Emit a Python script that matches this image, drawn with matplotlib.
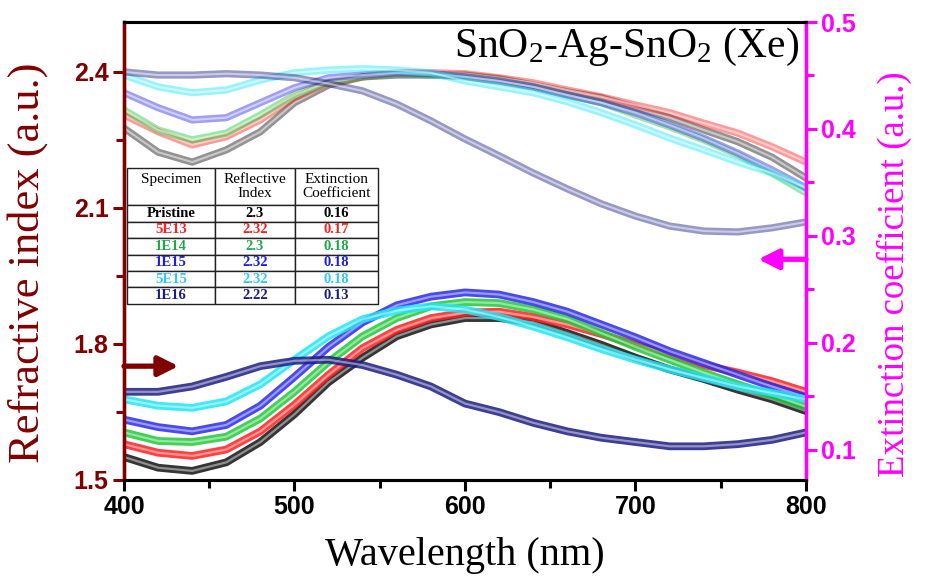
import matplotlib.pyplot as plt
from matplotlib.ticker import MultipleLocator

plt.rcParams["mathtext.fontset"] = "custom"
plt.rcParams["mathtext.rm"] = "Liberation Serif"
plt.rcParams["mathtext.it"] = "Liberation Serif:italic"

# wavelength grid (nm)
wavelength = [400, 420, 440, 460, 480, 500, 520, 540, 560, 580, 600,
              620, 640, 660, 680, 700, 720, 740, 760, 780, 800]

specimens = ["Pristine", "5E13", "1E14", "1E15", "5E15", "1E16"]

# refractive index n (left axis)
n_pristine = [2.276, 2.223, 2.201, 2.228, 2.268, 2.332, 2.371, 2.389, 2.393, 2.393, 2.393,
              2.385, 2.371, 2.356, 2.343, 2.321, 2.299, 2.272, 2.246, 2.212, 2.166]
n_5e13 = [2.305, 2.268, 2.239, 2.257, 2.294, 2.343, 2.376, 2.389, 2.398, 2.398, 2.396,
          2.387, 2.376, 2.360, 2.345, 2.327, 2.310, 2.287, 2.265, 2.235, 2.201]
n_1e14 = [2.316, 2.272, 2.250, 2.265, 2.305, 2.349, 2.378, 2.389, 2.396, 2.393, 2.389,
          2.380, 2.367, 2.349, 2.332, 2.305, 2.279, 2.250, 2.217, 2.177, 2.133]
n_1e15 = [2.354, 2.321, 2.294, 2.299, 2.332, 2.365, 2.387, 2.393, 2.398, 2.396, 2.389,
          2.380, 2.367, 2.349, 2.332, 2.310, 2.283, 2.254, 2.221, 2.184, 2.144]
n_5e15 = [2.393, 2.367, 2.354, 2.360, 2.382, 2.398, 2.404, 2.407, 2.404, 2.398, 2.380,
          2.367, 2.354, 2.334, 2.310, 2.283, 2.254, 2.228, 2.201, 2.177, 2.144]
n_1e16 = [2.400, 2.393, 2.393, 2.396, 2.393, 2.387, 2.374, 2.358, 2.329, 2.292, 2.252,
          2.215, 2.177, 2.142, 2.109, 2.082, 2.060, 2.049, 2.047, 2.056, 2.069]

# extinction coefficient k (right axis)
k_pristine = [0.093, 0.083, 0.080, 0.088, 0.107, 0.133, 0.163, 0.186, 0.206, 0.217, 0.223,
              0.223, 0.219, 0.209, 0.198, 0.186, 0.175, 0.166, 0.156, 0.147, 0.136]
k_5e13 = [0.105, 0.097, 0.094, 0.100, 0.117, 0.142, 0.170, 0.195, 0.212, 0.223, 0.228,
          0.229, 0.224, 0.217, 0.208, 0.198, 0.189, 0.179, 0.172, 0.164, 0.154]
k_1e14 = [0.116, 0.108, 0.107, 0.112, 0.129, 0.154, 0.182, 0.206, 0.223, 0.234, 0.238,
          0.237, 0.231, 0.222, 0.209, 0.196, 0.184, 0.172, 0.161, 0.151, 0.140]
k_1e15 = [0.128, 0.121, 0.117, 0.123, 0.141, 0.168, 0.196, 0.219, 0.235, 0.243, 0.247,
          0.245, 0.238, 0.229, 0.217, 0.205, 0.192, 0.181, 0.170, 0.159, 0.149]
k_5e15 = [0.147, 0.141, 0.139, 0.145, 0.161, 0.184, 0.206, 0.222, 0.230, 0.234, 0.231,
          0.224, 0.215, 0.205, 0.194, 0.184, 0.175, 0.167, 0.159, 0.153, 0.147]
k_1e16 = [0.154, 0.154, 0.159, 0.168, 0.178, 0.183, 0.184, 0.179, 0.170, 0.159, 0.143,
          0.135, 0.125, 0.117, 0.111, 0.107, 0.103, 0.103, 0.105, 0.109, 0.116]

table_n = ["2.3", "2.32", "2.3", "2.32", "2.32", "2.22"]
table_k = ["0.16", "0.17", "0.18", "0.18", "0.18", "0.13"]

n_series = [n_pristine, n_5e13, n_1e14, n_1e15, n_5e15, n_1e16]
k_series = [k_pristine, k_5e13, k_1e14, k_1e15, k_5e15, k_1e16]

colors = ["#111111", "#ff2020", "#22c83a", "#2a2ae8", "#20e4f4", "#1c1c82"]
text_colors = ["black", "#ff2020", "#1fa847", "#1f1fe0", "#30c8f4", "#1c1c82"]
maroon = "#800000"
magenta = "#ff00ff"

fig = plt.figure(figsize=(9.26, 5.76), dpi=100)
ax = fig.add_axes([0.1339, 0.1667, 0.7365, 0.7951])
ax2 = ax.twinx()

for vals, c in zip(n_series, colors):
    ax.plot(wavelength, vals, color=c, lw=5.2, alpha=0.45, solid_joinstyle="round")
    ax.plot(wavelength, vals, color="white", lw=1.5, alpha=0.5, solid_joinstyle="round")

for vals, c in zip(k_series, colors):
    ax2.plot(wavelength, vals, color=c, lw=5.6, alpha=0.85, solid_joinstyle="round")
    ax2.plot(wavelength, vals, color="white", lw=1.6, alpha=0.45, solid_joinstyle="round")

ax.set_xlim(400, 800)
ax.set_ylim(1.5, 2.51)
ax2.set_ylim(0.0715, 0.5)

ax.xaxis.set_major_locator(MultipleLocator(100))
ax.xaxis.set_minor_locator(MultipleLocator(50))
ax.yaxis.set_major_locator(MultipleLocator(0.3))
ax.yaxis.set_minor_locator(MultipleLocator(0.15))
ax2.yaxis.set_major_locator(MultipleLocator(0.1))
ax2.yaxis.set_minor_locator(MultipleLocator(0.05))

tick_font = {"family": "Liberation Sans", "weight": "bold", "size": 18}
ax.tick_params(axis="x", which="major", length=8, width=2.2, color="black", pad=3)
ax.tick_params(axis="x", which="minor", length=6, width=2.2, color="black")
ax.tick_params(axis="y", which="major", length=8, width=2.2, color=maroon,
               labelcolor=maroon, pad=3)
ax.tick_params(axis="y", which="minor", length=6, width=2.2, color=maroon)
ax2.tick_params(axis="y", which="major", length=8, width=2.2, color=magenta,
                labelcolor=magenta, pad=3)
ax2.tick_params(axis="y", which="minor", length=6, width=2.2, color=magenta)
for lab in ax.get_xticklabels() + ax.get_yticklabels() + ax2.get_yticklabels():
    lab.set_fontproperties(tick_font)

for a in (ax, ax2):
    a.spines["top"].set_linewidth(2.2)
    a.spines["bottom"].set_linewidth(2.2)
    a.spines["left"].set_color(maroon)
    a.spines["left"].set_linewidth(2.4)
    a.spines["right"].set_color(magenta)
    a.spines["right"].set_linewidth(2.4)

ax.set_xlabel("Wavelength (nm)", family="Liberation Serif", fontsize=29)
ax.set_ylabel("Refractive index (a.u.)", family="Liberation Serif", fontsize=32,
              color=maroon)
ax2.set_ylabel("Extinction coefficient (a.u.)", family="Liberation Serif", fontsize=26.5,
               color=magenta)
ax.xaxis.set_label_coords(0.5, -0.125)
ax.yaxis.set_label_coords(-0.112, 0.475)
ax2.yaxis.set_label_coords(1.103, 0.45)

ax.text(0.99, 0.924, r"SnO$_2$-Ag-SnO$_2$ (Xe)", transform=ax.transAxes,
        ha="right", va="baseline", family="Liberation Serif", fontsize=30)

# arrows pointing to the axes
ax.annotate("", xy=(432, 1.751), xytext=(400, 1.751),
            arrowprops=dict(arrowstyle="-|>", color=maroon, lw=3.8,
                            mutation_scale=30, shrinkA=0, shrinkB=0),
            annotation_clip=False)
ax2.annotate("", xy=(772, 0.278), xytext=(800, 0.278),
             arrowprops=dict(arrowstyle="-|>", color=magenta, lw=3.8,
                             mutation_scale=30, shrinkA=0, shrinkB=0),
             annotation_clip=False)

# summary table
cell_text = [[s, rn, rk] for s, rn, rk in zip(specimens, table_n, table_k)]
tbl = ax2.table(cellText=cell_text,
                colLabels=["Specimen\n", "Reflective\nIndex", "Extinction\nCoefficient"],
                colWidths=[88, 80, 83], cellLoc="center",
                bbox=[0.0044, 0.3843, 0.368, 0.297])
tbl.auto_set_font_size(False)
for (r, c), cell in tbl.get_celld().items():
    cell.set_linewidth(1.0)
    cell.set_edgecolor("#222222")
    cell.set_facecolor("white")
    txt = cell.get_text()
    if r == 0:
        cell.set_height(2.25)
        txt.set_fontproperties({"family": "Liberation Serif", "size": 11})
        txt.set_linespacing(1.1)
    else:
        cell.set_height(1.0)
        txt.set_fontproperties({"family": "Liberation Serif", "weight": "bold", "size": 10.5})
        txt.set_color(text_colors[r - 1])
tbl.set_zorder(5)

fig.savefig("out.png", dpi=100)
